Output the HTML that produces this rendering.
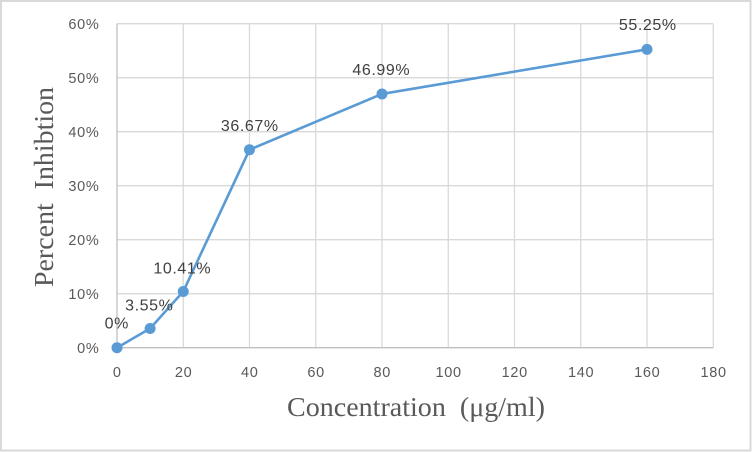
<!DOCTYPE html>
<html>
<head>
<meta charset="utf-8">
<style>
  html,body{margin:0;padding:0;background:#fff;}
  svg{display:block;}
  .tick{font-family:"Liberation Sans",sans-serif;font-size:14.5px;fill:#595959;letter-spacing:0.7px;}
  .dl{font-family:"Liberation Sans",sans-serif;font-size:16px;fill:#404040;letter-spacing:0.6px;}
  .title{font-family:"Liberation Serif",serif;font-size:27px;fill:#595959;}
</style>
</head>
<body>
<svg width="752" height="452" viewBox="0 0 752 452" xmlns="http://www.w3.org/2000/svg">
  <rect x="0" y="0" width="752" height="452" fill="#fff"/>
  <rect x="1" y="1" width="749.5" height="449.5" fill="none" stroke="#d9d9d9" stroke-width="2"/>

  <!-- gridlines -->
  <g stroke="#d9d9d9" stroke-width="1.3" fill="none">
    <line x1="117" y1="23.7" x2="713.25" y2="23.7"/>
    <line x1="117" y1="77.7" x2="713.25" y2="77.7"/>
    <line x1="117" y1="131.7" x2="713.25" y2="131.7"/>
    <line x1="117" y1="185.7" x2="713.25" y2="185.7"/>
    <line x1="117" y1="239.7" x2="713.25" y2="239.7"/>
    <line x1="117" y1="293.7" x2="713.25" y2="293.7"/>
    <line x1="183.25" y1="23.7" x2="183.25" y2="347.7"/>
    <line x1="249.5" y1="23.7" x2="249.5" y2="347.7"/>
    <line x1="315.75" y1="23.7" x2="315.75" y2="347.7"/>
    <line x1="382" y1="23.7" x2="382" y2="347.7"/>
    <line x1="448.25" y1="23.7" x2="448.25" y2="347.7"/>
    <line x1="514.5" y1="23.7" x2="514.5" y2="347.7"/>
    <line x1="580.75" y1="23.7" x2="580.75" y2="347.7"/>
    <line x1="647" y1="23.7" x2="647" y2="347.7"/>
    <line x1="713.25" y1="23.7" x2="713.25" y2="347.7"/>
  </g>
  <!-- axes -->
  <g stroke="#bfbfbf" stroke-width="1.3">
    <line x1="117" y1="23.7" x2="117" y2="347.7"/>
    <line x1="117" y1="347.7" x2="713.25" y2="347.7"/>
  </g>

  <!-- y tick labels -->
  <g class="tick" text-anchor="end">
    <text x="99.5" y="29">60%</text>
    <text x="99.5" y="83">50%</text>
    <text x="99.5" y="137">40%</text>
    <text x="99.5" y="191">30%</text>
    <text x="99.5" y="245">20%</text>
    <text x="99.5" y="299">10%</text>
    <text x="99.5" y="353">0%</text>
  </g>
  <!-- x tick labels -->
  <g class="tick" text-anchor="middle">
    <text x="117.3" y="377">0</text>
    <text x="183.6" y="377">20</text>
    <text x="249.8" y="377">40</text>
    <text x="316.1" y="377">60</text>
    <text x="382.3" y="377">80</text>
    <text x="448.6" y="377">100</text>
    <text x="514.8" y="377">120</text>
    <text x="581.1" y="377">140</text>
    <text x="647.3" y="377">160</text>
    <text x="713.6" y="377">180</text>
  </g>

  <!-- series -->
  <polyline points="117,347.7 150.1,328.5 183.25,291.5 249.5,149.7 382,93.95 647,49.35" fill="none" stroke="#5b9bd5" stroke-width="2.6" stroke-linejoin="round"/>
  <g fill="#5b9bd5">
    <circle cx="117" cy="347.7" r="5.5"/>
    <circle cx="150.1" cy="328.5" r="5.5"/>
    <circle cx="183.25" cy="291.5" r="5.5"/>
    <circle cx="249.5" cy="149.7" r="5.5"/>
    <circle cx="382" cy="93.95" r="5.5"/>
    <circle cx="647" cy="49.35" r="5.5"/>
  </g>

  <!-- data labels -->
  <g class="dl" text-anchor="middle">
    <text x="116.8" y="328.7">0%</text>
    <text x="149.3" y="310.7">3.55%</text>
    <text x="182.3" y="273.3">10.41%</text>
    <text x="249.8" y="131">36.67%</text>
    <text x="381.3" y="75">46.99%</text>
    <text x="647.8" y="30">55.25%</text>
  </g>

  <!-- axis titles -->
  <text class="title" x="416" y="416" text-anchor="middle" textLength="258" lengthAdjust="spacingAndGlyphs" xml:space="preserve">Concentration  (μg/ml)</text>
  <text class="title" x="0" y="0" text-anchor="middle" transform="translate(53,187) rotate(-90)" textLength="200" lengthAdjust="spacingAndGlyphs" xml:space="preserve">Percent  Inhibtion</text>
</svg>
</body>
</html>
